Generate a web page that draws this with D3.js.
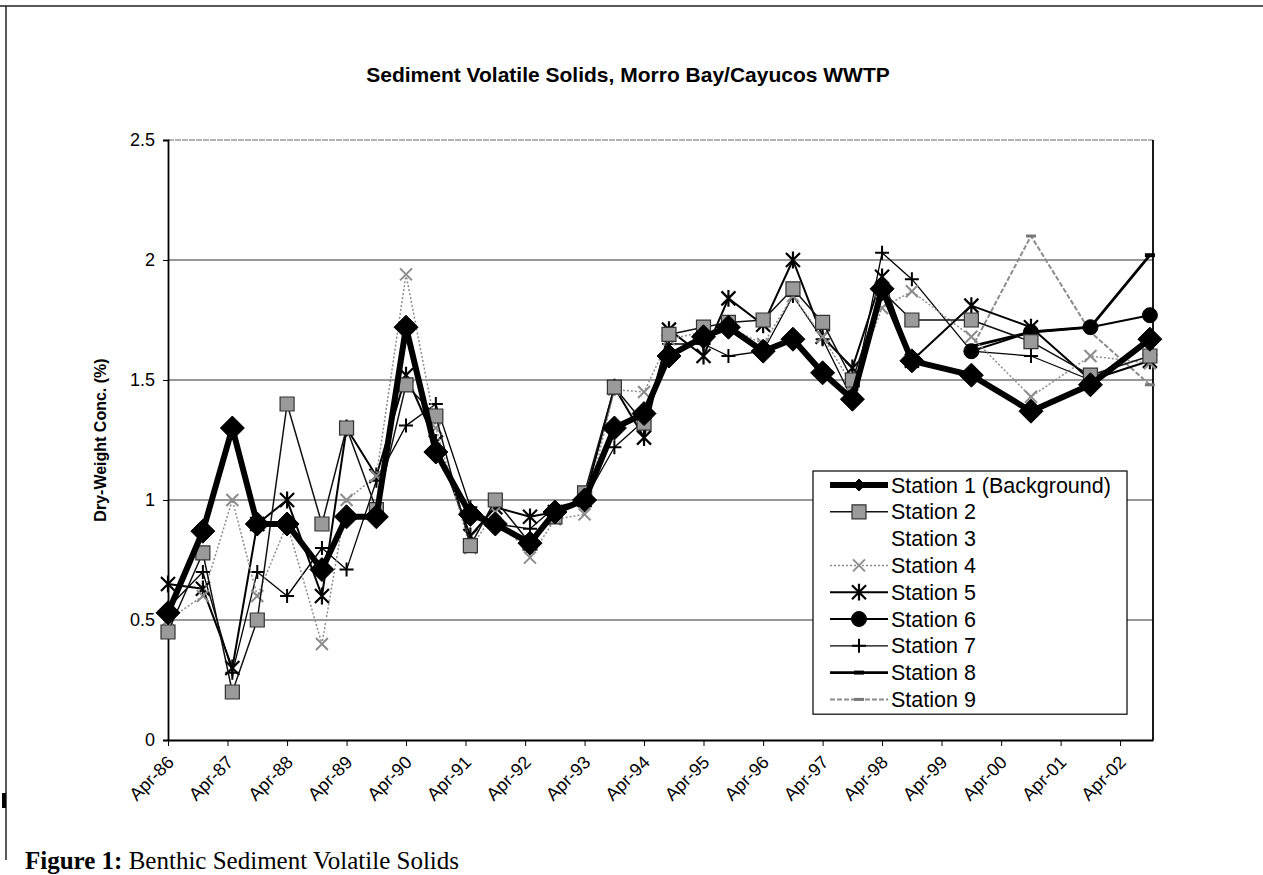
<!DOCTYPE html>
<html>
<head>
<meta charset="utf-8">
<script src="https://cdn.jsdelivr.net/npm/d3@7"></script>
<style>
  body { margin: 0; background: #fff; }
</style>
</head>
<body>
<div id="drawChart"></div>
<script>

// sample dates (one per survey)
var sampleDates = ["1986-04", "1986-11", "1987-05", "1987-10", "1988-04", "1988-11", "1989-04", "1989-10",
  "1990-04", "1990-10", "1991-05", "1991-10", "1992-05", "1992-10", "1993-04", "1993-10", "1994-04", "1994-09",
  "1995-04", "1995-09", "1996-04", "1996-10", "1997-04", "1997-10", "1998-04", "1998-10", "1999-10", "2000-10",
  "2001-10", "2002-10"];

var tickLabels = ["Apr-86", "Apr-87", "Apr-88", "Apr-89", "Apr-90", "Apr-91", "Apr-92", "Apr-93", "Apr-94",
  "Apr-95", "Apr-96", "Apr-97", "Apr-98", "Apr-99", "Apr-00", "Apr-01", "Apr-02"];

var yTicks = [0, 0.5, 1, 1.5, 2, 2.5];

var stationNames = ["Station 1 (Background)", "Station 2", "Station 3", "Station 4", "Station 5",
  "Station 6", "Station 7", "Station 8", "Station 9"];

// % volatile solids
var station1 = [0.53, 0.87, 1.30, 0.90, 0.90, 0.71, 0.93, 0.93, 1.72, 1.20, 0.94, 0.90, 0.82, 0.95, 1.00, 1.30,
  1.36, 1.60, 1.68, 1.72, 1.62, 1.67, 1.53, 1.42, 1.88, 1.58, 1.52, 1.37, 1.48, 1.67];
var station2 = [0.45, 0.78, 0.20, 0.50, 1.40, 0.90, 1.30, 0.96, 1.48, 1.35, 0.81, 1.00, 0.82, 0.93, 1.03, 1.47,
  1.32, 1.69, 1.72, 1.74, 1.75, 1.88, 1.74, 1.50, 1.87, 1.75, 1.75, 1.66, 1.52, 1.60];
var station3 = [null, null, null, null, null, null, null, null, null, null, null, null, null, null, null, null,
  null, null, null, null, null, null, null, null, null, null, null, null, null, null];
var station4 = [0.50, 0.60, 1.00, 0.60, 0.90, 0.40, 1.00, 1.10, 1.94, 1.30, 0.80, 0.95, 0.76, 0.92, 0.94, 1.46,
  1.45, 1.67, 1.70, 1.72, 1.65, 1.85, 1.68, 1.48, 1.80, 1.87, 1.68, 1.43, 1.60, 1.57];
var station5 = [0.65, 0.63, 0.30, 0.90, 1.00, 0.60, 1.30, 1.10, 1.52, 1.24, 0.85, 0.97, 0.93, 0.95, 1.00, 1.47,
  1.26, 1.71, 1.60, 1.84, 1.73, 2.00, 1.68, 1.55, 1.93, 1.58, 1.81, 1.72, 1.50, 1.58];
var station6 = [null, null, null, null, null, null, null, null, null, null, null, null, null, null, null, null,
  null, null, null, null, null, null, null, null, null, null, 1.62, 1.70, 1.72, 1.77];
var station7 = [0.55, 0.70, 0.28, 0.70, 0.60, 0.80, 0.71, 1.08, 1.31, 1.40, 0.97, 0.90, 0.88, 0.97, 1.00, 1.22,
  1.33, 1.65, 1.65, 1.60, 1.62, 1.85, 1.67, 1.42, 2.03, 1.92, 1.62, 1.60, 1.50, 1.66];
var station8 = [null, null, null, null, null, null, null, null, null, null, null, null, null, null, null, null,
  null, null, null, null, null, null, null, null, null, null, 1.64, 1.70, 1.72, 2.02];
var station9 = [null, null, null, null, null, null, null, null, null, null, null, null, null, null, null, null,
  null, null, null, null, null, null, null, null, null, null, 1.63, 2.10, 1.70, 1.48];

var stationValues = [station1, station2, station3, station4, station5, station6, station7, station8, station9];

// look of each series (line + marker), same order as stationNames
var looks = [
  {stroke: "#000", width: 6, dash: null, marker: "diamond", size: 12, fill: "#000", mstroke: "#000", mwidth: 1},
  {stroke: "#111", width: 1.5, dash: null, marker: "square", size: 7, fill: "#9a9a9a", mstroke: "#333", mwidth: 1.2},
  {stroke: "none", width: 0, dash: null, marker: "none", size: 0, fill: "none", mstroke: "none", mwidth: 0},
  {stroke: "#8c8c8c", width: 1.5, dash: "2,2", marker: "x", size: 6, fill: "none", mstroke: "#8c8c8c", mwidth: 2},
  {stroke: "#000", width: 2, dash: null, marker: "star", size: 7, fill: "none", mstroke: "#000", mwidth: 2.2},
  {stroke: "#000", width: 2, dash: null, marker: "circle", size: 7.5, fill: "#000", mstroke: "#000", mwidth: 1},
  {stroke: "#000", width: 1.3, dash: null, marker: "plus", size: 7, fill: "none", mstroke: "#000", mwidth: 2},
  {stroke: "#000", width: 2.8, dash: null, marker: "dash", size: 5, fill: "none", mstroke: "#000", mwidth: 4},
  {stroke: "#8c8c8c", width: 2, dash: "5,2", marker: "dash", size: 5, fill: "none", mstroke: "#777", mwidth: 3}
];

// marker shapes, s = half size
function markerPath(type, s) {
  if (type == "diamond") return "M0," + (-s) + "L" + s + ",0L0," + s + "L" + (-s) + ",0Z";
  if (type == "square") return "M" + (-s) + "," + (-s) + "h" + (2 * s) + "v" + (2 * s) + "h" + (-2 * s) + "Z";
  if (type == "circle") return "M" + (-s) + ",0a" + s + "," + s + " 0 1,0 " + (2 * s) + ",0a" + s + "," + s + " 0 1,0 " + (-2 * s) + ",0";
  if (type == "plus") return "M" + (-s) + ",0H" + s + "M0," + (-s) + "V" + s;
  if (type == "x") return "M" + (-s) + "," + (-s) + "L" + s + "," + s + "M" + (-s) + "," + s + "L" + s + "," + (-s);
  if (type == "star") return "M" + (-s) + "," + (-s) + "L" + s + "," + s + "M" + (-s) + "," + s + "L" + s + "," + (-s) + "M0," + (-s * 1.2) + "V" + (s * 1.2);
  if (type == "dash") return "M" + (-s) + ",0H" + s;
  return "";
}

var width = 1263, height = 875;
var plot = {left: 168, right: 1153, top: 140, bottom: 740};

var svg = d3.select("#drawChart")
    .append("svg")
    .attr("width", width)
    .attr("height", height);

var parseMonth = d3.timeParse("%Y-%m");
var parseTick = d3.timeParse("%b-%y");
var dates = sampleDates.map(parseMonth);
var tickDates = tickLabels.map(parseTick);

var x = d3.scaleTime()
    .domain([tickDates[0], new Date(2002, 9, 20)])
    .range([plot.left, plot.right]);

var y = d3.scaleLinear()
    .domain([0, 2.5])
    .range([plot.bottom, plot.top]);

// outer frame of the scanned page
svg.append("line")
    .attr("x1", 0).attr("x2", width).attr("y1", 6).attr("y2", 6)
    .style("stroke", "#222").style("stroke-width", 1.5);
svg.append("line")
    .attr("x1", 6).attr("x2", 6).attr("y1", 6).attr("y2", 860)
    .style("stroke", "#222").style("stroke-width", 1.5);
svg.append("rect")
    .attr("x", 2).attr("y", 793).attr("width", 4).attr("height", 15)
    .style("fill", "#000");

// title
svg.append("text")
    .attr("x", 628)
    .attr("y", 82)
    .attr("text-anchor", "middle")
    .attr("font-family", "Liberation Sans, Arial, sans-serif")
    .attr("font-weight", "bold")
    .attr("font-size", "21px")
    .text("Sediment Volatile Solids, Morro Bay/Cayucos WWTP");

// gridlines
svg.append("g")
    .selectAll("line")
    .data(yTicks.filter(function(d) { return d > 0 && d < 2.5; }))
    .enter().append("line")
    .attr("x1", plot.left).attr("x2", plot.right)
    .attr("y1", function(d) { return y(d); })
    .attr("y2", function(d) { return y(d); })
    .style("stroke", "#333")
    .style("stroke-width", 1.2);

// top and right border of the plot area
svg.append("line")
    .attr("x1", plot.left).attr("x2", plot.right)
    .attr("y1", y(2.5)).attr("y2", y(2.5))
    .style("stroke", "#666").style("stroke-width", 1.2)
    .style("stroke-dasharray", "6,1");
svg.append("line")
    .attr("x1", plot.right).attr("x2", plot.right)
    .attr("y1", y(2.5)).attr("y2", y(0))
    .style("stroke", "#000").style("stroke-width", 1.8);

// y axis
var yAxis = svg.append("g")
    .attr("transform", "translate(" + plot.left + ",0)")
    .call(d3.axisLeft(y).tickValues(yTicks).tickSize(5).tickFormat(d3.format("")));
yAxis.select(".domain").style("stroke", "#000").style("stroke-width", 1.8);
yAxis.selectAll("text")
    .attr("font-family", "Liberation Sans, Arial, sans-serif")
    .attr("font-size", "18px")
    .attr("x", -13)
    .style("fill", "#000");

// x axis
var xAxis = svg.append("g")
    .attr("transform", "translate(0," + plot.bottom + ")")
    .call(d3.axisBottom(x).tickValues(tickDates).tickSize(6).tickSizeOuter(0)
      .tickFormat(function(d, i) { return tickLabels[i]; }));
xAxis.select(".domain").style("stroke", "#000").style("stroke-width", 1.8);
xAxis.selectAll("text")
    .attr("font-family", "Liberation Sans, Arial, sans-serif")
    .attr("font-size", "18px")
    .attr("text-anchor", "end")
    .attr("dy", "0.35em")
    .attr("transform", "translate(2,19) rotate(-45)")
    .attr("y", 0)
    .attr("x", 0)
    .style("fill", "#000");

// y axis title
svg.append("text")
    .attr("transform", "translate(106," + 440 + ") rotate(-90)")
    .attr("text-anchor", "middle")
    .attr("font-family", "Liberation Sans, Arial, sans-serif")
    .attr("font-weight", "bold")
    .attr("font-size", "16px")
    .text("Dry-Weight Conc. (%)");

// series, drawn last-to-first so station 1 sits on top
var line = d3.line()
    .defined(function(d) { return d.v != null; })
    .x(function(d) { return x(d.date); })
    .y(function(d) { return y(d.v); });

var order = [8, 7, 6, 5, 4, 3, 2, 1, 0];
order.forEach(function(k) {
  var pts = stationValues[k].map(function(v, i) { return {date: dates[i], v: v}; });
  var lk = looks[k];
  if (lk.stroke == "none") return;
  var g = svg.append("g").attr("class", "station" + (k + 1));
  g.append("path")
      .datum(pts.filter(function(d) { return d.v != null; }))
      .attr("d", line)
      .style("fill", "none")
      .style("stroke", lk.stroke)
      .style("stroke-width", lk.width)
      .style("stroke-dasharray", lk.dash)
      .style("stroke-linejoin", "round");
  g.selectAll("path.mark")
      .data(pts.filter(function(d) { return d.v != null; }))
      .enter().append("path")
      .attr("class", "mark")
      .attr("transform", function(d) { return "translate(" + x(d.date) + "," + y(d.v) + ")"; })
      .attr("d", markerPath(lk.marker, lk.size))
      .style("fill", lk.fill)
      .style("stroke", lk.mstroke)
      .style("stroke-width", lk.mwidth);
});

// legend
var legend = {left: 813, top: 471, width: 314, rowH: 26.8};
svg.append("rect")
    .attr("x", legend.left).attr("y", legend.top)
    .attr("width", legend.width).attr("height", legend.rowH * 9 + 2)
    .style("fill", "#fff")
    .style("stroke", "#000")
    .style("stroke-width", 1.2);

stationNames.forEach(function(name, k) {
  var lk = looks[k];
  var cy = legend.top + 14 + k * legend.rowH;
  if (lk.stroke != "none") {
    svg.append("line")
        .attr("x1", legend.left + 17).attr("x2", legend.left + 75)
        .attr("y1", cy).attr("y2", cy)
        .style("stroke", lk.stroke)
        .style("stroke-width", lk.width)
        .style("stroke-dasharray", lk.dash);
    svg.append("path")
        .attr("transform", "translate(" + (legend.left + 46) + "," + cy + ")")
        .attr("d", markerPath(lk.marker, k == 0 ? 6 : lk.size))
        .style("fill", lk.fill)
        .style("stroke", lk.mstroke)
        .style("stroke-width", lk.mwidth);
  }
  svg.append("text")
      .attr("x", legend.left + 78)
      .attr("y", cy)
      .attr("dy", "0.35em")
      .attr("font-family", "Liberation Sans, Arial, sans-serif")
      .attr("font-size", "21.5px")
      .text(name);
});

// figure caption at the bottom edge of the scan
var caption = svg.append("text")
    .attr("x", 25)
    .attr("y", 869)
    .attr("font-family", "Liberation Serif, Times New Roman, serif")
    .attr("font-size", "25px");
caption.append("tspan").attr("font-weight", "bold").text("Figure 1:");
caption.append("tspan").text(" Benthic Sediment Volatile Solids");

</script>
</body>
</html>
